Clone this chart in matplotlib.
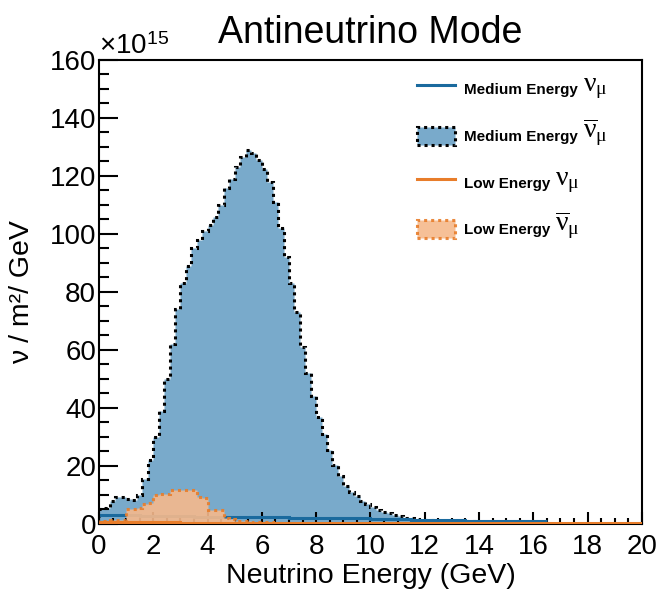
import matplotlib
matplotlib.use("Agg")
import matplotlib.pyplot as plt
import numpy as np
from matplotlib.ticker import MultipleLocator

plt.rcParams['font.family'] = ['Liberation Sans', 'DejaVu Sans']
plt.rcParams['mathtext.fontset'] = 'custom'
plt.rcParams['mathtext.rm'] = 'Liberation Serif'
plt.rcParams['mathtext.it'] = 'Liberation Serif:italic'
plt.rcParams['mathtext.bf'] = 'Liberation Serif:bold'
plt.rcParams['mathtext.sf'] = 'Liberation Sans'

# flux values in units of 1e15 nu / m^2 / GeV

# medium energy anti-nu_mu, 0.2 GeV bins from 0 to 16.4 GeV
me_nubar_edges = np.arange(0, 16.41, 0.2)
me_nubar_flux = [
    5.0, 5.5, 8.0, 9.4, 9.2, 8.5, 8.4, 10.0, 15.5, 22.0,
    30.0, 39.0, 50.0, 62.0, 74.0, 83.0, 89.0, 95.0, 98.0, 101.0,
    103.0, 106.0, 110.0, 116.0, 119.0, 123.0, 126.5, 129.0, 128.0, 125.5,
    122.5, 118.0, 111.0, 102.0, 92.0, 83.0, 73.0, 61.0, 52.0, 44.0,
    37.0, 31.0, 25.5, 20.5, 16.5, 13.0, 11.0, 9.5, 8.0, 6.8,
    5.8, 4.9, 4.2, 3.7, 3.0, 2.6, 2.2, 1.9, 1.7, 1.5,
    1.4, 1.3, 1.2, 1.15, 1.1, 1.0, 0.95, 0.9, 0.9, 0.85,
    0.8, 0.8, 0.75, 0.7, 0.7, 0.65, 0.6, 0.6, 0.55, 0.5,
    0.45, 0.4,
]

# medium energy nu_mu (wrong sign), 0.5 GeV bins from 0 to 16.5 GeV
me_nu_edges = np.arange(0, 16.51, 0.5)
me_nu_flux = [
    3.2, 3.1, 3.0, 2.9, 2.7, 2.6, 2.6, 2.5, 2.5, 2.4,
    2.4, 2.4, 2.3, 2.3, 2.2, 2.2, 2.1, 2.1, 2.0, 1.9,
    1.8, 1.7, 1.6, 1.5, 1.4, 1.3, 1.3, 1.2, 1.2, 1.2,
    1.1, 1.1, 1.1,
]

# low energy anti-nu_mu, 0.2 GeV bins from 0 to 8 GeV
le_nubar_edges = np.arange(0, 8.01, 0.2)
le_nubar_flux = [
    1.0, 1.2, 1.3, 1.4, 1.5, 5.0, 5.2, 5.4, 7.0, 7.3,
    10.0, 10.2, 10.5, 11.7, 11.8, 11.8, 11.7, 11.6, 9.3, 9.0,
    4.8, 4.8, 4.7, 2.0, 1.8, 1.2, 1.0, 0.9, 0.8, 0.7,
    0.6, 0.6, 0.5, 0.5, 0.5, 0.5, 0.4, 0.4, 0.4, 0.4,
]

# low energy nu_mu, 1 GeV bins from 0 to 20 GeV
le_nu_edges = np.arange(0, 20.01, 1.0)
le_nu_flux = [
    0.6, 0.6, 0.6, 0.5, 0.5, 0.5, 0.5, 0.4, 0.4, 0.4,
    0.4, 0.4, 0.3, 0.3, 0.3, 0.3, 0.3, 0.3, 0.3, 0.3,
]

legend_names = ['Medium Energy', 'Medium Energy', 'Low Energy', 'Low Energy']
legend_symbols = [r'$\mathrm{\nu}_{\mathrm{\mu}}$',
                  r'$\overline{\mathrm{\nu}}_{\mathrm{\mu}}$',
                  r'$\mathrm{\nu}_{\mathrm{\mu}}$',
                  r'$\overline{\mathrm{\nu}}_{\mathrm{\mu}}$']

blue = '#1a6a9e'
blue_fill = '#79aacb'
orange = '#e87d2a'
orange_fill = '#f6b98c'


def flux_plot():
    fig = plt.figure(figsize=(6.62, 5.91), dpi=100)
    ax = fig.add_axes([0.1495, 0.1134, 0.8202, 0.7851])

    dots = (0, (1, 1.3))
    h_me_nubar = ax.stairs(me_nubar_flux, me_nubar_edges, fill=True,
                           facecolor=blue_fill, edgecolor='black',
                           linestyle=dots, linewidth=2.2, zorder=1)
    h_me_nu = ax.stairs(me_nu_flux, me_nu_edges, baseline=None, color=blue,
                        linewidth=2.2, zorder=2)
    h_le_nubar = ax.stairs(le_nubar_flux, le_nubar_edges, fill=True,
                           facecolor=orange_fill, edgecolor=orange,
                           linestyle=dots, linewidth=2.2, alpha=0.9, zorder=3)
    h_le_nu = ax.stairs(le_nu_flux, le_nu_edges, baseline=None, color=orange,
                        linewidth=2.2, zorder=4)

    ax.set_xlim(0, 20)
    ax.set_ylim(0, 160)
    ax.xaxis.set_major_locator(MultipleLocator(2))
    ax.xaxis.set_minor_locator(MultipleLocator(0.5))
    ax.yaxis.set_major_locator(MultipleLocator(20))
    ax.yaxis.set_minor_locator(MultipleLocator(5))
    ax.tick_params(axis='x', which='major', direction='in', length=8.6, width=1.5,
                   labelsize=20, pad=7)
    ax.tick_params(axis='x', which='minor', direction='in', length=4.3, width=1.5)
    ax.tick_params(axis='y', which='major', direction='in', length=13.5, width=1.5,
                   labelsize=20, pad=2)
    ax.tick_params(axis='y', which='minor', direction='in', length=7, width=1.5)
    for s in ax.spines.values():
        s.set_linewidth(1.5)

    ax.text(0, 1.0, r'×10$^{\mathsf{15}}$', transform=ax.transAxes, fontsize=20,
            ha='left', va='bottom')
    ax.set_title('Antineutrino Mode', fontsize=27, pad=12)
    ax.set_xlabel('Neutrino Energy (GeV)', fontsize=20.5)
    ax.xaxis.set_label_coords(0.5, -0.085)
    ax.set_ylabel('ν / m²/ GeV', fontsize=20.5)
    ax.yaxis.set_label_coords(-0.118, 0.5)

    leg = ax.legend([h_me_nu, h_me_nubar, h_le_nu, h_le_nubar], legend_names,
                    loc='upper left', bbox_to_anchor=(0.586, 0.956), frameon=False,
                    prop={'weight': 'bold', 'size': 11},
                    handlelength=2.5, handleheight=1.4, labelspacing=1.9,
                    handletextpad=0.55, borderpad=0, borderaxespad=0)

    # put the greek symbols next to the legend labels, after layout is known
    fig.canvas.draw()
    inv = ax.transAxes.inverted()
    for txt, sym in zip(leg.get_texts(), legend_symbols):
        bb = txt.get_window_extent()
        x0, y0 = inv.transform((bb.x1 + 5, bb.y0 - 4))
        ax.text(x0, y0, sym, transform=ax.transAxes, fontsize=20,
                ha='left', va='bottom')

    fig.savefig('out.png', dpi=100)


if __name__ == '__main__':
    flux_plot()
